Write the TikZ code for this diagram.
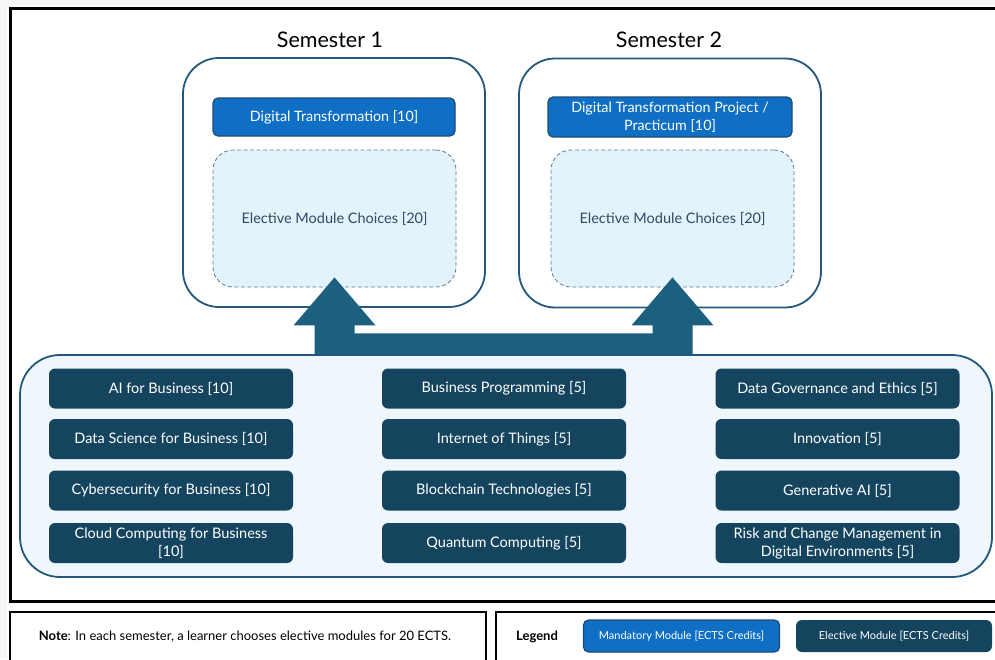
\documentclass[tikz,border=0pt]{standalone}
\usepackage{fontspec}
\setsansfont{Lato}
\usetikzlibrary{calc}

\definecolor{deepteal}{HTML}{15445F}
\definecolor{flowteal}{HTML}{1D5F7F}
\definecolor{edgeteal}{HTML}{22597A}
\definecolor{mandblue}{HTML}{0F6FC4}
\definecolor{mandedge}{HTML}{1F4B72}
\definecolor{poolfill}{HTML}{EFF7FD}
\definecolor{choicefill}{HTML}{E3F3FC}
\definecolor{choiceedge}{HTML}{5F7D92}
\definecolor{choicetext}{HTML}{2D4B63}
\definecolor{pagegray}{HTML}{F4F6F8}

\begin{document}
\begin{tikzpicture}[font=\sffamily, x=1pt, y=-1pt]
                \useasboundingbox (0,0) rectangle (995,659);
                \clip (0,0) rectangle (995,659);
                \fill[pagegray] (0,0) rectangle (995,659);
                \fill[white] (7,5) rectangle (995,659);

                \tikzset{
                    frame/.style = {draw=black, line width=3pt},
                    panel/.style = {draw=black, line width=1.6pt},
                    sembox/.style = {draw=edgeteal, line width=1.8pt, fill=white, rounded corners=36pt, minimum width=302pt, minimum height=249pt},
                    semtitle/.style = {font=\sffamily\fontsize{21.5}{24}\selectfont},
                    mandatory/.style = {draw=mandedge, line width=1.2pt, fill=mandblue, text=white, rounded corners=5pt, align=center, inner sep=0pt, font=\sffamily\fontsize{14.3}{18}\selectfont},
                    choice/.style = {draw=choiceedge, dash pattern=on 4pt off 2.5pt, line width=0.8pt, fill=choicefill, text=choicetext, rounded corners=20pt, minimum width=243pt, minimum height=137pt, font=\sffamily\fontsize{14.5}{17}\selectfont},
                    pool/.style = {draw=edgeteal, line width=1.8pt, fill=poolfill, rounded corners=40pt, minimum width=972pt, minimum height=222pt},
                    elective/.style = {fill=deepteal, text=white, rounded corners=6pt, minimum width=244pt, minimum height=40pt, align=center, inner sep=0pt, font=\sffamily\fontsize{14.5}{18}\selectfont},
                    legendbox/.style = {minimum width=196pt, minimum height=32pt, font=\sffamily\fontsize{11}{13}\selectfont},
                    flow/.style = {fill=flowteal},
                }

                \draw[frame] (10,8) rectangle (1100,601);
                \draw[panel] (10,612) rectangle (486,700);
                \draw[panel] (496,612) rectangle (1100,700);

                % semesters
                \node[semtitle] (title1) at (330,40) {Semester 1};
                \node[semtitle] (title2) at (669,40) {Semester 2};
                \node[sembox] (sem1) at (334,182.5) {};
                \node[sembox] (sem2) at (670,183) {};
                \node[mandatory, minimum width=242pt, minimum height=38pt] (mand1) at (334,117) {Digital Transformation [10]};
                \node[mandatory, minimum width=244pt, minimum height=40pt] (mand2) at (670,117) {Digital Transformation Project /\\Practicum [10]};
                \node[choice] (ch1) at (334.5,218.5) {Elective Module Choices [20]};
                \node[choice] (ch2) at (672.5,218.5) {Elective Module Choices [20]};

                % elective pool
                \node[pool] (pool) at (506,466) {};

                \node[elective] (aibiz) at (171,388.5) {AI for Business [10]};
                \node[elective] (datasci) at (171,439) {Data Science for Business [10]};
                \node[elective] (cyber) at (171,490.5) {Cybersecurity for Business [10]};
                \node[elective] (cloud) at (171,543) {Cloud Computing for Business\\{}[10]};

                \node[elective] (bizprog) at (504,388.5) {Business Programming [5]};
                \node[elective] (iot) at (504,439) {Internet of Things [5]};
                \node[elective] (chain) at (504,490.5) {Blockchain Technologies [5]};
                \node[elective] (quantum) at (504,543) {Quantum Computing [5]};

                \node[elective] (govern) at (837.5,388.5) {Data Governance and Ethics [5]};
                \node[elective] (innov) at (837.5,439) {Innovation [5]};
                \node[elective] (genai) at (837.5,490.5) {Generative AI [5]};
                \node[elective] (risk) at (837.5,543) {Risk and Change Management in\\Digital Environments [5]};

                % flow arrow
                \coordinate (tip1) at ([yshift=10pt]ch1.south);
                \coordinate (tip2) at ([yshift=10pt]ch2.south);
                \coordinate (foot1) at (tip1 |- pool.north);
                \coordinate (foot2) at (tip2 |- pool.north);
                \coordinate (headbase) at ($(tip1)+(0,48)$);
                \coordinate (bartop) at ($(tip1)+(0,56)$);
                \fill[flow] ($(foot1)+(-20,0)$) -- ($(foot1 |- headbase)+(-20,0)$) -- ($(foot1 |- headbase)+(-41,0)$) -- (tip1)
                    -- ($(foot1 |- headbase)+(41,0)$) -- ($(foot1 |- headbase)+(20,0)$) -- ($(foot1 |- bartop)+(20,0)$)
                    -- ($(foot2 |- bartop)+(-20,0)$) -- ($(foot2 |- headbase)+(-20,0)$) -- ($(foot2 |- headbase)+(-41,0)$) -- (tip2)
                    -- ($(foot2 |- headbase)+(41,0)$) -- ($(foot2 |- headbase)+(20,0)$) -- ($(foot2)+(20,0)$) -- cycle;

                % note and legend
                \node[font=\sffamily\fontsize{13}{15}\selectfont] (note) at (245,637) {\textbf{Note}: In each semester, a learner chooses elective modules for 20 ECTS.};
                \node[font=\sffamily\bfseries\fontsize{13}{15}\selectfont] (legend) at (537,637) {Legend};
                \node[mandatory, legendbox] (legmand) at (681.5,636) {Mandatory Module [ECTS Credits]};
                \node[elective, legendbox] (legelec) at (894,636) {Elective Module [ECTS Credits]};

            \end{tikzpicture}
\end{document}
